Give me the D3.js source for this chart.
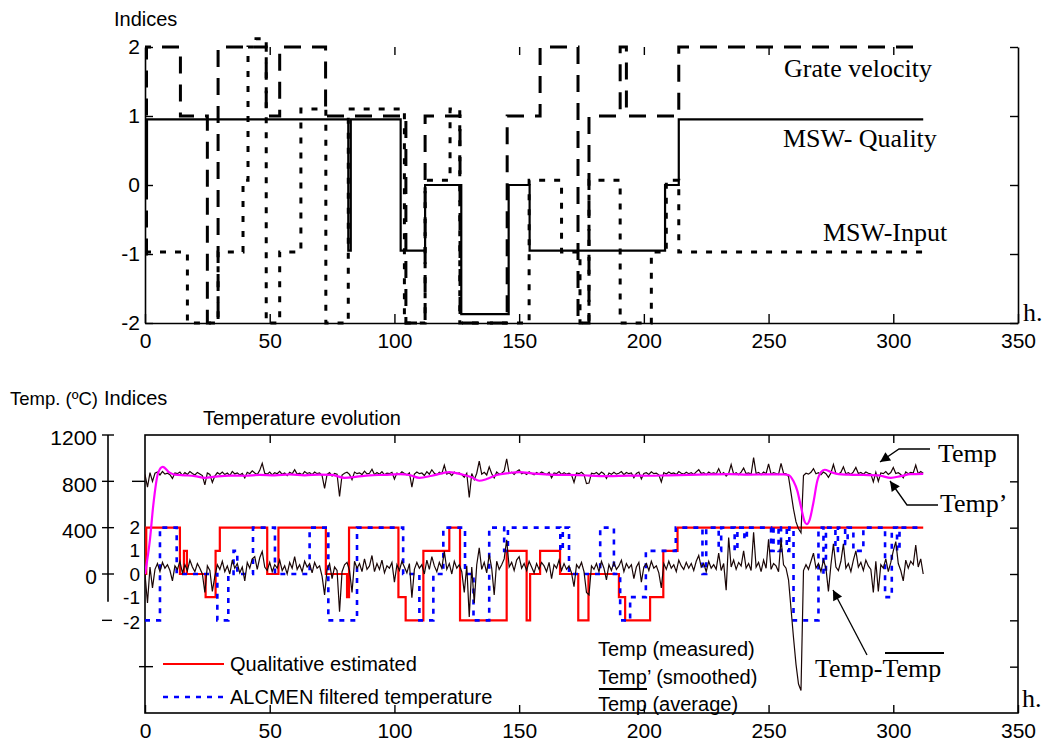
<!DOCTYPE html>
<html><head><meta charset="utf-8">
<script src="https://cdn.jsdelivr.net/npm/d3@7"></script>
<style>
body{margin:0;background:#fff}
svg text{font-family:Arial,"Liberation Sans",sans-serif;fill:#000}
svg text.serif{font-family:"Times New Roman","Liberation Serif",serif}
</style></head><body>
<svg id="chart" width="1045" height="742"></svg>
<script>
// ---------- Upper panel: process indices (step series, hours -> index level) ----------
const qualityT = [0, 0.8, 81.5, 82.5, 102.5, 112.3, 126.8, 145.8, 154.2, 208.5, 214, 312];
const qualityV = [0, 0.95, -0.95, 0.95, -0.95, 0, -1.87, 0, -0.95, 0, 0.95, 0.95];

const grateT = [0, 0.6, 14.2, 25, 29.3, 48.6, 54, 72.4, 104.6, 112.3, 126.3, 145.2, 158.4, 173.6, 178, 190.5, 193, 214, 312];
const grateV = [-1, 2, 1, -2, 2, 1, 2, 1, -2, 1, -2, 1, 2, -2, 1, 2, 1, 2, 2];

const inputT = [0, 17, 29.3, 39.3, 41.3, 44.5, 48.6, 54, 62.5, 72.5, 81.5, 104, 112.3, 122.3, 126.2, 154, 167, 174.4, 178, 190.5, 203, 209, 214, 312];
const inputV = [-0.97, -2, -0.97, 0.07, 2, 2.12, -2, -0.97, 1.1, -2, 1.1, -2, 0.07, 1.1, -2, 0.07, -0.97, -2, 0.07, -2, -0.97, 0.07, -0.97, -0.97];

const hourTicks = [0, 50, 100, 150, 200, 250, 300, 350];
const innerHourTicks = [50, 100, 150, 200, 250, 300];
const indexTicks = [-2, -1, 0, 1, 2];

// ---------- Lower panel: temperature evolution ----------
// measured furnace temperature, one reading per hour (t = 0..312), ºC
const tempMeasured = [
 860, 750, 875, 800, 870, 880, 855, 885, 862, 870,
 858, 825, 872, 866, 880, 852, 875, 860, 884, 868,
 855, 877, 864, 850, 770, 872, 860, 790, 845, 875,
 862, 880, 858, 871, 850, 886, 864, 873, 855, 868,
 830, 878, 866, 890, 872, 858, 895, 955, 870, 862,
 880, 855, 874, 866, 886, 860, 872, 850, 878, 865,
 900, 862, 870, 856, 884, 868, 875, 858, 880, 866,
 872, 850, 740, 860, 875, 845, 868, 862, 670, 855,
 870, 878, 860, 815, 880, 866, 873, 858, 888, 864,
 870, 905, 858, 876, 862, 884, 856, 870, 866, 878,
 820, 872, 860, 883, 868, 856, 874, 750, 862, 880,
 866, 872, 850, 884, 862, 900, 870, 856, 878, 866,
 940, 862, 874, 850, 880, 866, 872, 858, 835, 870,
 660, 868, 815, 870, 975, 862, 878, 855, 925, 866,
 830, 880, 862, 870, 890, 995, 868, 878, 860, 885,
 900, 866, 874, 860, 882, 868, 856, 876, 864, 880,
 870, 858, 878, 830, 872, 866, 884, 860, 874, 862,
 870, 856, 790, 872, 866, 878, 858, 780, 785, 870,
 864, 876, 858, 880, 866, 825, 872, 860, 878, 862,
 870, 884, 858, 876, 866, 872, 830, 868, 880, 820,
 868, 874, 860, 882, 866, 870, 856, 795, 876, 864,
 880, 866, 872, 858, 884, 870, 862, 878, 866, 874,
 860, 882, 900, 868, 874, 858, 880, 866, 872, 864,
 910, 860, 876, 845, 868, 945, 862, 874, 858, 880,
 915, 866, 872, 860, 1005, 868, 876, 858, 880, 866,
 950, 862, 874, 868, 860, 955, 870, 866, 840, 700,
 560, 450, 390, 355, 850, 870, 862, 878, 910, 866,
 874, 858, 880, 866, 835, 872, 945, 868, 862, 878,
 925, 866, 874, 860, 882, 920, 868, 876, 862, 880,
 870, 864, 795, 878, 800, 872, 866, 884, 860, 876,
 920, 868, 874, 860, 830, 882, 866, 878, 872, 940,
 866, 884, 870
];

// deviation from the average temperature, one value per hour, ºC
const tempDeviation = [
 0, -250, 60, -120, 40, 90, 20, 100, 50, 80,
 30, -60, 70, 40, 110, 10, 80, 30, 120, 60,
 20, 90, 50, 0, -160, 70, 30, -150, -20, 80,
 40, 110, 20, 70, 0, 120, 50, 90, 10, 60,
 -60, 100, 50, 130, 150, 40, 140, 195, 60, 30,
 100, 20, 80, 50, 120, 30, 70, 0, 100, 50,
 150, 40, 80, 20, 110, 60, 90, 10, 100, 50,
 70, -20, -180, 40, 90, -40, 60, 30, -325, 20,
 80, 100, 30, -160, 110, 50, 90, 20, 130, 40,
 70, 160, 20, 90, 40, 120, 10, 70, 50, 100,
 -70, 80, 30, 110, 60, 10, 90, -205, 40, 100,
 50, 80, 0, 120, 40, 150, 70, 20, 100, 50,
 195, 40, 90, 0, 110, 50, 80, 20, -160, 70,
 -370, 60, -250, 80, 225, 40, 100, 10, 170, 50,
 -180, 110, 40, 80, 130, 295, 60, 100, 30, 120,
 150, 50, 90, 30, 110, 60, 10, 90, 40, 100,
 70, 20, 100, -40, 80, 50, 120, 30, 90, 40,
 70, 10, -110, 80, 50, 100, 20, -160, -180, 70,
 40, 90, 20, 110, 50, -50, 80, 30, 100, 40,
 70, 120, 20, 90, 50, 80, -40, 60, 100, -70,
 60, 90, 30, 110, 50, 70, 10, -120, 90, 40,
 110, 50, 80, 20, 120, 70, 40, 100, 50, 90,
 30, 110, 160, 60, 90, 20, 110, 50, 80, 40,
 180, 30, 90, -140, 315, 60, 120, 40, 100, 70,
 200, 50, 90, 30, 360, 60, 100, 20, 120, 50,
 300, 40, 90, 70, 20, 300, 80, 50, -50, -300,
 -550, -780, -950, -1005, 30, 80, 40, 110, 180, 50,
 90, 20, 120, 50, -150, 80, 260, 60, 30, 110,
 260, 50, 90, 20, 120, 200, 60, 100, 30, 120,
 70, 40, -160, 110, -150, 80, 50, 130, 20, 100,
 200, 280, 90, 30, -60, 120, 50, 110, 80, 250,
 60, 130, 0
];

// smoothed temperature (Temp'), ºC
const smoothT = [0, 2, 3.3, 5.3, 7.1, 9.9, 12, 16, 20, 24, 28, 34, 40, 46, 52, 58, 64, 70, 75, 80, 85, 90, 96, 102, 106, 110, 115, 122, 127, 131, 134, 137, 141, 146, 150, 156, 162, 170, 178, 186, 194, 202, 210, 218, 226, 234, 242, 250, 256, 258, 260, 261.5, 263, 264.5, 265.3, 266.5, 268, 269.5, 271, 272.5, 275, 278, 282, 288, 294, 299, 303, 307, 312];
const smoothV = [0, 300, 590, 875, 925, 875, 858, 852, 845, 830, 840, 850, 848, 855, 852, 860, 852, 858, 855, 830, 840, 852, 856, 862, 855, 830, 848, 880, 860, 835, 805, 820, 855, 872, 880, 866, 858, 855, 850, 845, 850, 848, 852, 856, 860, 862, 858, 860, 860, 855, 800, 720, 580, 450, 430, 470, 620, 800, 880, 900, 880, 862, 858, 855, 852, 830, 845, 862, 865];

// qualitative estimation (index level)
const qualT = [0, 0.5, 14, 15.6, 16.8, 24.3, 28.3, 30, 49, 53.5, 72.5, 81, 81.8, 101.6, 104.5, 111.6, 122, 126.3, 145, 153, 154.4, 158.4, 166.4, 173.7, 177.8, 190, 192.5, 202.5, 207.8, 213.5, 312];
const qualV = [0, 2, 0, 1, 0, -1, 1, 2, 0, 2, 0, -1, 2, -1, -2, 1, 2, -2, 1, -2, 0, 1, 0, -2, 0, -1, -2, -1, 1, 2, 2];

// ALCMEN filtered temperature (index level)
const alcmenT = [0, 6, 12.7, 29, 33.4, 35.5, 37, 43.3, 52.1, 66, 73.5, 85, 103.5, 110, 115.6, 119.6, 128.3, 131.7, 138, 144, 145.5, 166.5, 167.5, 170, 182.5, 188, 190.5, 194.5, 200.8, 212.8, 223.5, 225, 230, 231, 236.4, 237.5, 240.3, 241.3, 251, 252, 254, 255, 257.3, 258.3, 260, 270, 272, 273, 276.8, 277.8, 280.7, 281.7, 284, 288, 296.7, 299.4, 301.5, 302.5, 312];
const alcmenV = [-2, 2, 0, -2, 0, 1, 0, 2, 0, 2, -2, 2, 0, -2, 0, 2, 0, -2, 2, 1, 2, 1, 2, 0, 2, 0, -2, -1, 1, 2, 0, 2, 1, 2, 1, 2, 1.5, 2, 1, 2, 1, 2, 1, 2, -2, 2, 0, 2, 1, 2, 1.3, 2, 1, 2, -1, 2, 1, 2, 2];

const tempTicks = [0, 400, 800, 1200];
const rightTempTicks = [-800, -400, 0, 400, 800];

// ---------- drawing ----------
const svg = d3.select("#chart");
const x = d3.scaleLinear().domain([0, 350]).range([145, 1018]);
const yTop = d3.scaleLinear().domain([-2, 2]).range([323, 47]);
const yTemp = d3.scaleLinear().domain([-1200, 1200]).range([713, 435]);
const yIdx = d3.scaleLinear().domain([-6, 6]).range([713, 435]); // one index unit = 200 ºC

const TICK_FONT = "21px";
const plain = d => String(d); // hyphen-minus, as printed on the axes
function styleAxis(g) {
  g.selectAll("path.domain").attr("stroke", "#000").attr("stroke-width", 1.6);
  g.selectAll(".tick line").attr("stroke", "#000").attr("stroke-width", 1.4);
  g.selectAll(".tick text").style("font-size", TICK_FONT).attr("fill", "#000")
    .style("font-family", "Arial, 'Liberation Sans', sans-serif");
}

// ===== upper panel =====
const upper = svg.append("g");
upper.append("g").attr("transform", "translate(0,323)")
  .call(d3.axisBottom(x).tickValues(hourTicks).tickSizeInner(-9).tickSizeOuter(0).tickPadding(10).tickFormat(plain))
  .call(styleAxis);
upper.append("g").attr("transform", "translate(0,47)")
  .call(d3.axisTop(x).tickValues(innerHourTicks).tickSizeInner(-8).tickSizeOuter(0).tickFormat(""))
  .call(g => g.select("path.domain").remove())
  .call(styleAxis);
upper.append("g").attr("transform", "translate(145,0)")
  .call(d3.axisLeft(yTop).tickValues(indexTicks).tickSizeInner(-8).tickSizeOuter(0).tickPadding(5).tickFormat(plain))
  .call(styleAxis);
upper.append("g").attr("transform", "translate(1018,0)")
  .call(d3.axisRight(yTop).tickValues(indexTicks).tickSizeInner(-8).tickSizeOuter(0).tickFormat(""))
  .call(styleAxis);

const stepTop = d3.line().x(d => x(d[0])).y(d => yTop(d[1])).curve(d3.curveStepAfter);
upper.append("path").datum(d3.zip(qualityT, qualityV)).attr("d", stepTop)
  .attr("fill", "none").attr("stroke", "#000").attr("stroke-width", 2.2);
upper.append("path").datum(d3.zip(grateT, grateV)).attr("d", stepTop)
  .attr("fill", "none").attr("stroke", "#000").attr("stroke-width", 3).attr("stroke-dasharray", "17,11");
upper.append("path").datum(d3.zip(inputT, inputV)).attr("d", stepTop)
  .attr("fill", "none").attr("stroke", "#000").attr("stroke-width", 3).attr("stroke-dasharray", "6,9");

upper.append("text").attr("x", 114).attr("y", 26).style("font-size", "20px").text("Indices");
upper.append("text").attr("class", "serif").attr("x", 784).attr("y", 77).style("font-size", "26px").text("Grate velocity");
upper.append("text").attr("class", "serif").attr("x", 783).attr("y", 147).style("font-size", "26px").text("MSW- Quality");
upper.append("text").attr("class", "serif").attr("x", 823).attr("y", 241).style("font-size", "26px").text("MSW-Input");
upper.append("text").attr("class", "serif").attr("x", 1023).attr("y", 321).style("font-size", "26px").text("h.");

// ===== lower panel =====
const lower = svg.append("g");
lower.append("rect").attr("x", 145).attr("y", 435).attr("width", 873).attr("height", 278)
  .attr("fill", "none").attr("stroke", "#000").attr("stroke-width", 1.6);
lower.append("g").attr("transform", "translate(0,713)")
  .call(d3.axisBottom(x).tickValues(hourTicks).tickSizeInner(-8).tickSizeOuter(0).tickPadding(10).tickFormat(plain))
  .call(g => g.select("path.domain").remove())
  .call(styleAxis);
lower.append("g").attr("transform", "translate(0,435)")
  .call(d3.axisTop(x).tickValues(innerHourTicks).tickSizeInner(-8).tickSizeOuter(0).tickFormat(""))
  .call(g => g.select("path.domain").remove())
  .call(styleAxis);
lower.append("g").attr("transform", "translate(1018,0)")
  .call(d3.axisRight(yTemp).tickValues(rightTempTicks).tickSizeInner(-8).tickSizeOuter(0).tickFormat(""))
  .call(g => g.select("path.domain").remove())
  .call(styleAxis);

// temperature axis on the far left
const tAxis = lower.append("g");
tAxis.append("line").attr("x1", 108).attr("x2", 108).attr("y1", yTemp(1200)).attr("y2", yTemp(-240))
  .attr("stroke", "#000").attr("stroke-width", 1.6);
tAxis.selectAll("line.tk").data(tempTicks).join("line").attr("class", "tk")
  .attr("x1", 102).attr("x2", 114).attr("y1", d => yTemp(d)).attr("y2", d => yTemp(d))
  .attr("stroke", "#000").attr("stroke-width", 1.4);
tAxis.selectAll("text").data(tempTicks).join("text")
  .attr("x", 97).attr("y", d => yTemp(d) + 3).attr("dy", "0.35em").attr("text-anchor", "end")
  .style("font-size", TICK_FONT).text(d => d);

// index labels next to the box
lower.selectAll("text.idx").data(indexTicks).join("text").attr("class", "idx")
  .attr("x", 140).attr("y", d => yIdx(d) + (d === -2 ? 2 : 0)).attr("dy", "0.35em").attr("text-anchor", "end")
  .style("font-size", "19px").text(plain);
const extraTicks = [[102, 112, yIdx(-2)], [132, 145, yTemp(800)], [139, 153, yTemp(-800)]];
lower.selectAll("line.xt").data(extraTicks).join("line").attr("class", "xt")
  .attr("x1", d => d[0]).attr("x2", d => d[1]).attr("y1", d => d[2]).attr("y2", d => d[2])
  .attr("stroke", "#000").attr("stroke-width", 1.4);

const defs = svg.append("defs");
defs.append("clipPath").attr("id", "plotClip")
  .append("rect").attr("x", 145).attr("y", 435).attr("width", 873).attr("height", 278);
const plot = lower.append("g").attr("clip-path", "url(#plotClip)");

const stepIdx = d3.line().x(d => x(d[0])).y(d => yIdx(d[1])).curve(d3.curveStepAfter);
const hours = d3.range(tempMeasured.length);
const tempLine = d3.line().x(d => x(d[0])).y(d => yTemp(d[1]));

plot.append("path").datum(d3.zip(qualT, qualV)).attr("d", stepIdx)
  .attr("fill", "none").attr("stroke", "#ff0000").attr("stroke-width", 2.2);
plot.append("path").datum(d3.zip(alcmenT, alcmenV)).attr("d", stepIdx)
  .attr("fill", "none").attr("stroke", "#0000ff").attr("stroke-width", 2.6).attr("stroke-dasharray", "5,6");
plot.append("path").datum(d3.zip(hours, tempDeviation)).attr("d", tempLine)
  .attr("fill", "none").attr("stroke", "#1a0606").attr("stroke-width", 1.2);
plot.append("path").datum(d3.zip(hours, tempMeasured)).attr("d", tempLine)
  .attr("fill", "none").attr("stroke", "#1a0606").attr("stroke-width", 1.2);
plot.append("path").datum(d3.zip(smoothT, smoothV))
  .attr("d", d3.line().x(d => x(d[0])).y(d => yTemp(d[1])).curve(d3.curveMonotoneX))
  .attr("fill", "none").attr("stroke", "#ff00ff").attr("stroke-width", 2.2);

// titles
lower.append("text").attr("x", 10).attr("y", 405).style("font-size", "18.5px").text("Temp. (ºC)");
lower.append("text").attr("x", 104).attr("y", 405).style("font-size", "20px").text("Indices");
lower.append("text").attr("x", 203).attr("y", 425).style("font-size", "20px").text("Temperature evolution");
lower.append("text").attr("class", "serif").attr("x", 1022).attr("y", 707).style("font-size", "26px").text("h.");

// legend
lower.append("line").attr("x1", 163).attr("x2", 224).attr("y1", 664).attr("y2", 664)
  .attr("stroke", "#ff0000").attr("stroke-width", 2.2);
lower.append("text").attr("x", 230).attr("y", 671).style("font-size", "20px").text("Qualitative estimated");
lower.append("line").attr("x1", 163).attr("x2", 226).attr("y1", 697).attr("y2", 697)
  .attr("stroke", "#0000ff").attr("stroke-width", 2.6).attr("stroke-dasharray", "5,6");
lower.append("text").attr("x", 230).attr("y", 704).style("font-size", "20px").text("ALCMEN filtered temperature");

// key for the black traces
lower.append("text").attr("x", 598).attr("y", 656).style("font-size", "20px").text("Temp (measured)");
lower.append("text").attr("x", 598).attr("y", 684).style("font-size", "20px").text("Temp’ (smoothed)");
lower.append("line").attr("x1", 599).attr("x2", 647).attr("y1", 689).attr("y2", 689)
  .attr("stroke", "#000").attr("stroke-width", 2);
lower.append("text").attr("x", 598).attr("y", 711).style("font-size", "20px").text("Temp (average)");

// annotations with arrows
defs.append("marker").attr("id", "arrowHead").attr("viewBox", "0 0 10 10")
  .attr("refX", 10).attr("refY", 5).attr("markerWidth", 14).attr("markerHeight", 10)
  .attr("markerUnits", "userSpaceOnUse").attr("orient", "auto")
  .append("path").attr("d", "M0,0 L10,5 L0,10 Z").attr("fill", "#000");
const arrows = [
  [[930, 449], [899, 449], [880, 462]],
  [[938, 505], [907, 505], [890, 481]],
  [[867, 655], [833, 590]]
];
lower.selectAll("path.arrow").data(arrows).join("path").attr("class", "arrow")
  .attr("d", d => d3.line()(d)).attr("fill", "none").attr("stroke", "#000").attr("stroke-width", 1.3)
  .attr("marker-end", "url(#arrowHead)");
lower.append("text").attr("class", "serif").attr("x", 938).attr("y", 462).style("font-size", "26px").text("Temp");
lower.append("text").attr("class", "serif").attr("x", 940).attr("y", 512).style("font-size", "26px").text("Temp’");
lower.append("text").attr("class", "serif").attr("x", 815).attr("y", 677).style("font-size", "26px").text("Temp-Temp");
lower.append("line").attr("x1", 885).attr("x2", 944).attr("y1", 653).attr("y2", 653)
  .attr("stroke", "#000").attr("stroke-width", 2);
</script>
</body></html>
